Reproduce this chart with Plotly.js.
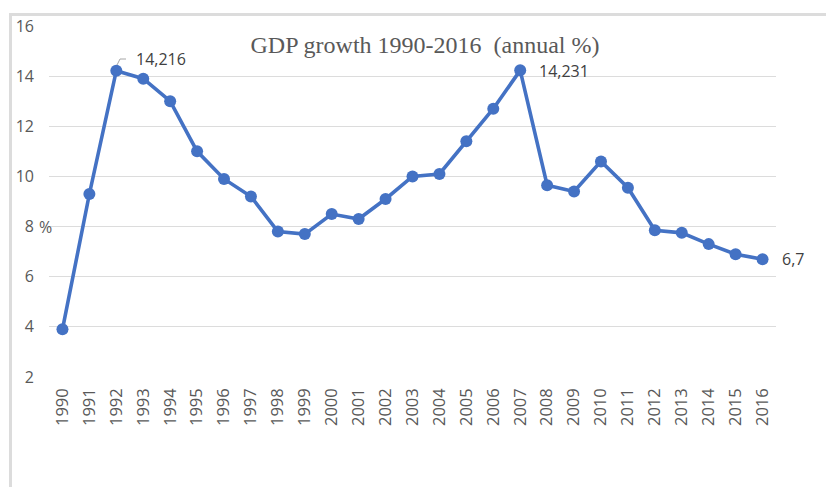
<!DOCTYPE html>
<html>
<head>
<meta charset="utf-8">
<script src="https://cdn.plot.ly/plotly-3.0.1.min.js"></script>
<style>
  html, body { margin: 0; padding: 0; background: #fff; }
  #wrap { position: relative; width: 826px; height: 487px; }
  #chart { width: 826px; height: 487px; }
  #frame { position: absolute; left: 9px; top: 13px; width: 817px; height: 474px;
           border-top: 3px solid #dcdcdc; border-left: 3px solid #dcdcdc;
           box-sizing: border-box; pointer-events: none; }
</style>
</head>
<body>
<div id="wrap">
  <div id="chart"></div>
  <div id="frame"></div>
</div>
<script>
const years = ["1990","1991","1992","1993","1994","1995","1996","1997","1998","1999",
               "2000","2001","2002","2003","2004","2005","2006","2007","2008","2009",
               "2010","2011","2012","2013","2014","2015","2016"];
const growth = [3.9, 9.3, 14.216, 13.9, 13.0, 11.0, 9.9, 9.2, 7.8, 7.7,
                8.5, 8.3, 9.1, 10.0, 10.1, 11.4, 12.7, 14.231, 9.65, 9.4,
                10.6, 9.55, 7.85, 7.75, 7.3, 6.9, 6.7];
const labelIdx = [2, 17, 26];
const labelText = ["14,216", "14,231", "6,7"];
const yTicks = [2, 4, 6, 8, 10, 12, 14, 16];

const sans = 'Open Sans, Liberation Sans, sans-serif';

const trace = {
  x: years, y: growth, type: 'scatter', mode: 'lines+markers',
  line: { color: '#4472C4', width: 3.6 },
  marker: { color: '#4472C4', size: 12 },
  hoverinfo: 'x+y'
};

const annotations = labelIdx.map((i, k) => ({
  x: i, y: growth[i], xref: 'x', yref: 'y',
  text: labelText[k], showarrow: false,
  xanchor: 'left', yanchor: 'middle',
  xshift: k === 0 ? 18 : 17, yshift: k === 0 ? 12 : (k === 1 ? -1 : 0),
  font: { family: sans, size: 16, color: '#404040' }
}));
annotations.push({
  x: (37 - 49) / 727, xref: 'paper', y: 8, yref: 'y',
  text: '%', showarrow: false, xanchor: 'left', yanchor: 'middle',
  font: { family: sans, size: 16, color: '#595959' }
});

const shapes = [{
  type: 'path', xref: 'paper', yref: 'paper',
  path: 'M ' + ((117 - 49) / 727) + ',' + ((377 - 65) / 351) +
        ' L ' + ((120 - 49) / 727) + ',' + ((377 - 59) / 351) +
        ' L ' + ((126 - 49) / 727) + ',' + ((377 - 59) / 351),
  line: { color: '#a6a6a6', width: 1 }
}];

const layout = {
  width: 826, height: 487,
  margin: { l: 49, r: 50, t: 26, b: 110 },
  paper_bgcolor: '#ffffff', plot_bgcolor: '#ffffff',
  showlegend: false,
  title: {
    text: 'GDP growth 1990-2016&nbsp;&nbsp;(annual %)',
    font: { family: 'Liberation Serif, Times New Roman, serif', size: 24, color: '#595959' },
    xref: 'container', yref: 'container',
    x: 425 / 826, xanchor: 'center',
    y: 1 - 45 / 487, yanchor: 'middle'
  },
  xaxis: {
    type: 'category', range: [-0.5, 26.5],
    tickangle: -90, showgrid: false, zeroline: false, showline: false, ticks: '',
    tickfont: { family: sans, size: 16.5, color: '#595959' },
    ticklabelstandoff: 7
  },
  yaxis: {
    range: [2, 16], tickvals: yTicks, ticktext: yTicks.map(String),
    showgrid: true, gridcolor: '#dcdcdc', gridwidth: 1,
    zeroline: false, showline: false, ticks: '',
    tickfont: { family: sans, size: 16, color: '#595959' },
    ticklabelstandoff: 14
  },
  annotations: annotations,
  shapes: shapes
};

Plotly.newPlot('chart', [trace], layout, { displayModeBar: false, staticPlot: true });
</script>
</body>
</html>
